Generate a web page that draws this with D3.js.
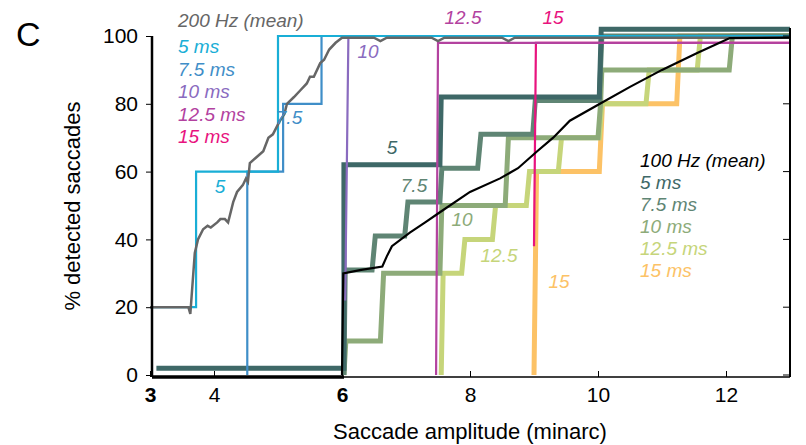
<!DOCTYPE html>
<html><head><meta charset="utf-8">
<script src="https://cdn.jsdelivr.net/npm/d3@7"></script>
<style>body{margin:0;background:#fff}text{font-family:Arial,"Liberation Sans",sans-serif}</style>
</head><body><div id="chart"></div>
<script>
// 200 Hz step curves [amplitude, % detected]
const hz200_5 = [[3,20],[3.72,20],[3.72,60],[5.0,60],[5.0,100],[13,100]];
const hz200_75 = [[4.52,0],[4.52,60],[5.08,60],[5.08,80],[5.68,80],[5.68,100],[13,100]];
const hz200_10 = [[6.05,22],[6.1,100],[13,100]];
const hz200_125 = [[7.47,0],[7.5,98],[13,98]];
const hz200_15 = [[9.0,38],[9.03,98],[13,98]];
const hz200_mean = [[3,20],[3.6,20],[3.63,18],[3.7,36],[3.75,40],[3.83,43],[3.9,44],[3.95,43.5],[4.05,45],[4.1,46],[4.17,46],[4.22,45],[4.3,51],[4.36,54],[4.45,56],[4.5,58],[4.53,57],[4.56,62.5],[4.65,64],[4.77,66],[4.85,70],[4.92,71],[5.03,75],[5.1,77],[5.14,80],[5.25,82],[5.35,84],[5.45,86],[5.5,88],[5.56,88],[5.66,92],[5.72,93],[5.8,96],[5.9,98],[6.0,99.5],[6.5,99.5],[6.6,98.5],[6.7,99.5],[7.4,99.5],[7.5,98.5],[7.6,99.5],[8.5,99.5],[8.6,98.5],[8.7,99.5],[13,99.5]];
// 100 Hz step curves
const hz100_5 = [[3.1,2],[6.03,2],[6.03,62],[7.53,62],[7.55,82],[10.02,82],[10.05,102],[13,102]];
const hz100_75 = [[6.03,0],[6.05,31],[6.47,31],[6.52,41],[6.98,41],[7.03,51],[7.53,51],[7.56,61],[8.12,61],[8.17,71],[8.98,71],[9.02,81],[10.02,81],[10.06,100],[13,100]];
const hz100_10 = [[6.03,0],[6.06,10],[6.6,10],[6.65,30],[7.53,30],[7.56,50],[8.55,50],[8.6,70],[10.0,70],[10.04,80],[10.06,90],[12.05,90],[12.1,100],[13,100]];
const hz100_125 = [[7.55,0],[7.58,30],[7.87,30],[7.92,40],[8.35,40],[8.4,50],[8.88,50],[8.93,60],[9.38,60],[9.43,70],[10.02,70],[10.06,80],[10.75,80],[10.8,90],[11.55,90],[11.6,100],[13,100]];
const hz100_15 = [[9.0,0],[9.04,60],[10.02,60],[10.07,80],[11.23,80],[11.28,100],[13,100]];
const hz100_mean = [[6.0,0],[6.02,30],[6.3,31],[6.63,32],[6.7,35],[6.78,38],[7.06,42],[7.3,45],[7.53,48],[8.0,54],[8.47,58],[8.75,61],[9.05,66],[9.3,70],[9.56,75],[10.03,80],[10.5,85],[11.0,90],[11.55,95],[12.06,99.4],[13,99.5]];

const yTicks = [0,20,40,60,80,100];
const xTicks = [3,4,6,8,10,12];
const legend200 = ["5 ms","7.5 ms","10 ms","12.5 ms","15 ms"];
const legend100 = ["5 ms","7.5 ms","10 ms","12.5 ms","15 ms"];

const c200 = ["#19aed6","#3f8ec8","#8a6bbf","#b3429f","#e8137e"];
const c100 = ["#3e6867","#5f8574","#8dab79","#c6d57a","#fcc266"];

const W = 806, H = 445;
const svg = d3.select("#chart").append("svg").attr("width", W).attr("height", H);
const x = d3.scaleLinear().domain([3,13]).range([150,790]);
const y = d3.scaleLinear().domain([0,100]).range([375,36]);
const line = d3.line().x(d => x(d[0])).y(d => y(d[1]));

svg.append("clipPath").attr("id","c").append("rect")
  .attr("x",150).attr("y",20).attr("width",640).attr("height",360);
const g = svg.append("g").attr("clip-path","url(#c)");

function draw(data, color, w) {
  g.append("path").attr("d", line(data)).attr("fill","none")
    .attr("stroke", color).attr("stroke-width", w).attr("stroke-linejoin","miter");
}
// 100 Hz, thick
[hz100_15, hz100_125, hz100_10, hz100_75, hz100_5].forEach((d,i) => draw(d, c100[4-i], 5));
// 200 Hz, thin
[hz200_15, hz200_125, hz200_10, hz200_75, hz200_5].forEach((d,i) => draw(d, c200[4-i], 2.2));
draw(hz200_mean, "#666", 2.5);
draw(hz100_mean, "#000", 2.2);

// axes
const yAxis = svg.append("g").attr("transform","translate(152,0)")
  .call(d3.axisLeft(y).tickValues(yTicks).tickSize(6).tickPadding(8));
yAxis.select(".domain").remove();
yAxis.selectAll("text").attr("font-size",21).attr("fill","#000");
svg.append("line").attr("x1",152).attr("x2",152).attr("y1",y(100)).attr("y2",377).attr("stroke","#000").attr("stroke-width",2.5);

svg.append("line").attr("x1",790).attr("x2",790).attr("y1",y(100)-8).attr("y2",377).attr("stroke","#000").attr("stroke-width",2);
yTicks.forEach(t => svg.append("line").attr("x1",783).attr("x2",790).attr("y1",y(t)).attr("y2",y(t)).attr("stroke","#000"));

svg.append("line").attr("x1",152).attr("x2",790).attr("y1",377).attr("y2",377).attr("stroke","#000").attr("stroke-width",1.5);
svg.append("line").attr("x1",152).attr("x2",x(6)+2).attr("y1",377).attr("y2",377).attr("stroke","#000").attr("stroke-width",3.5);
const xAxis = svg.append("g").attr("transform","translate(0,377)")
  .call(d3.axisBottom(x).tickValues(xTicks).tickSize(-6).tickPadding(10));
xAxis.select(".domain").remove();
xAxis.selectAll("text").attr("font-size",21).attr("fill","#000")
  .attr("font-weight", d => (d===3||d===6) ? "bold" : "normal");

svg.append("text").attr("x",470).attr("y",439).attr("text-anchor","middle").attr("font-size",22).text("Saccade amplitude (minarc)");
svg.append("text").attr("transform","translate(80,206) rotate(-90)").attr("text-anchor","middle").attr("font-size",22).text("% detected saccades");
svg.append("text").attr("x",16).attr("y",46).attr("font-size",34).text("C");

// legends
function lbl(tx, ty, t, color, anchor) {
  svg.append("text").attr("x",tx).attr("y",ty).attr("font-size",19).attr("font-style","italic")
    .attr("fill",color).attr("text-anchor",anchor||"start").text(t);
}
lbl(178,27,"200 Hz (mean)","#666");
legend200.forEach((t,i) => lbl(178,53+i*22.5,t,c200[i]));
lbl(640,167,"100 Hz (mean)","#000");
legend100.forEach((t,i) => lbl(640,189+i*22,t,c100[i]));

// curve labels
lbl(220,193,"5",c200[0],"middle");
lbl(289,124,"7.5",c200[1],"middle");
lbl(368,58,"10",c200[2],"middle");
lbl(463,24,"12.5",c200[3],"middle");
lbl(553,24,"15",c200[4],"middle");
lbl(392,154,"5",c100[0],"middle");
lbl(414,192,"7.5",c100[1],"middle");
lbl(462,226,"10",c100[2],"middle");
lbl(499,262,"12.5",c100[3],"middle");
lbl(559,288,"15",c100[4],"middle");
</script></body></html>
